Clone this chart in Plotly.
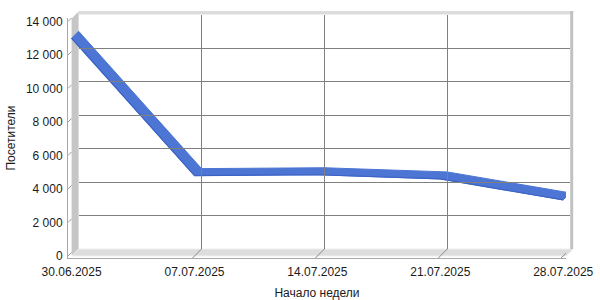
import plotly.graph_objects as go

# ---- data ----
weeks = ["30.06.2025", "07.07.2025", "14.07.2025", "21.07.2025", "28.07.2025"]
visitors = [13000, 4800, 4850, 4600, 3350]
y_ticks = [0, 2000, 4000, 6000, 8000, 10000, 12000, 14000]
y_tick_labels = ["0", "2 000", "4 000", "6 000", "8 000", "10 000", "12 000", "14 000"]
x_title = "Начало недели"
y_title = "Посетители"

W, H = 600, 300
# geometry (pixels)
FX0, STEP = 71.6, 122.9          # front position of first category, category spacing
FY0, PXU = 256.0, 0.01675        # front y of 0, pixels per unit
DEPTH = 7.0                      # 3D offset
AX_L, AX_B, AX_R, AX_T = 68.0, 258.0, 566.0, 18.0

n = len(weeks)
xi = list(range(n))
x_min = -(FX0 - AX_L) / STEP
x_max = (n - 1) + (AX_R - (FX0 + (n - 1) * STEP)) / STEP
y_min = -(AX_B - FY0) / PXU
y_max = y_ticks[-1] + ((FY0 - y_ticks[-1] * PXU) - AX_T) / PXU
dx = DEPTH / STEP
dy = DEPTH / PXU

def px(v):
    return v / W

def py(v):
    return 1 - v / H

fig = go.Figure()

# wall tick diagonals (left wall)
wx, wy = [], []
for v in y_ticks:
    wx += [x_min, 0, None]
    wy += [v, v + (FX0 - AX_L) / PXU, None]
fig.add_trace(go.Scatter(x=wx, y=wy, mode="lines", line=dict(color="#9a9a9a", width=1),
                         hoverinfo="skip", showlegend=False))
# floor diagonals
fx, fy = [], []
for i in xi[1:]:
    fx += [i - (AX_B - FY0) / STEP, i + dx, None]
    fy += [y_min, dy, None]
fig.add_trace(go.Scatter(x=fx, y=fy, mode="lines", line=dict(color="#8a8a8a", width=1),
                         hoverinfo="skip", showlegend=False))

# 3D ribbon
rx = xi + [i + dx for i in reversed(xi)] + [xi[0]]
ry = visitors + [v + dy for v in reversed(visitors)] + [visitors[0]]
fig.add_trace(go.Scatter(x=rx, y=ry, mode="lines", fill="toself",
                         fillcolor="#4c75d4", line=dict(color="#4c75d4", width=1),
                         hoverinfo="skip", showlegend=False))
fig.add_trace(go.Scatter(x=xi, y=visitors, mode="lines",
                         line=dict(color="#3c62c4", width=1.2),
                         hoverinfo="skip", showlegend=False))

# back-plane gridlines axes
bx0, by0 = FX0 + DEPTH, FY0 - DEPTH
bx1 = bx0 + (n - 1) * STEP
by1 = by0 - y_ticks[-1] * PXU
fig.add_trace(go.Scatter(x=[0], y=[0], xaxis="x2", yaxis="y2", mode="markers",
                         marker=dict(opacity=0), hoverinfo="skip", showlegend=False))

grey = "#808080"
axis_line = "#a8a8a8"
font = dict(family="Liberation Sans, Arial, sans-serif", size=12, color="#1a1a1a")

shapes = [
    # left wall
    dict(type="path", xref="paper", yref="paper", layer="below",
         path=f"M{px(FX0)},{py(FY0)} L{px(bx0)},{py(by0)} L{px(bx0)},{py(by1-3)} L{px(FX0)},{py(by1-3+DEPTH)} Z",
         fillcolor="#c6c6c6", line=dict(width=0)),
    # floor
    dict(type="path", xref="paper", yref="paper", layer="below",
         path=f"M{px(FX0)},{py(FY0)} L{px(bx0)},{py(by0)} L{px(bx1+3)},{py(by0)} L{px(FX0+(n-1)*STEP+3)},{py(FY0)} Z",
         fillcolor="#dddddd", line=dict(color="#eeeeee", width=1)),
    # top strip
    dict(type="rect", xref="paper", yref="paper", layer="below",
         x0=px(bx0), x1=px(bx1 + 3), y0=py(by1), y1=py(by1 - 3.5),
         fillcolor="#dcdcdc", line=dict(width=0)),
    # right strip
    dict(type="rect", xref="paper", yref="paper", layer="below",
         x0=px(bx1), x1=px(bx1 + 3), y0=py(by0), y1=py(by1 - 3.5),
         fillcolor="#c2c2c2", line=dict(width=0)),
]

fig.update_layout(
    width=W, height=H,
    margin=dict(l=0, r=0, t=0, b=0, autoexpand=False),
    paper_bgcolor="white", plot_bgcolor="rgba(0,0,0,0)",
    font=font,
    shapes=shapes,
    showlegend=False,
    xaxis=dict(domain=[px(AX_L), px(AX_R)], range=[x_min, x_max], automargin=False,
               tickmode="array", tickvals=xi, ticktext=weeks,
               showgrid=False, zeroline=False, showline=True, linecolor=axis_line,
               ticks="", tickfont=font, ticklabelstandoff=3,
               title=dict(text=x_title, font=font, standoff=10)),
    yaxis=dict(domain=[py(AX_B), py(AX_T)], range=[y_min, y_max], automargin=False,
               tickmode="array", tickvals=y_ticks, ticktext=y_tick_labels,
               showgrid=False, zeroline=False, showline=True, linecolor=axis_line,
               ticks="", tickfont=font, ticklabelstandoff=2,
               title=dict(text=y_title, font=font, standoff=7)),
    xaxis2=dict(domain=[px(bx0), px(bx1)], range=[0, n - 1], anchor="y2", automargin=False,
                tickmode="array", tickvals=xi, showticklabels=False,
                showgrid=True, gridcolor=grey, gridwidth=1, zeroline=False, showline=False),
    yaxis2=dict(domain=[py(by0), py(by1)], range=[0, y_ticks[-1]], anchor="x2", automargin=False,
                tickmode="array", tickvals=y_ticks, showticklabels=False,
                showgrid=True, gridcolor=grey, gridwidth=1, zeroline=False, showline=False),
)

fig.write_html("out.html")
